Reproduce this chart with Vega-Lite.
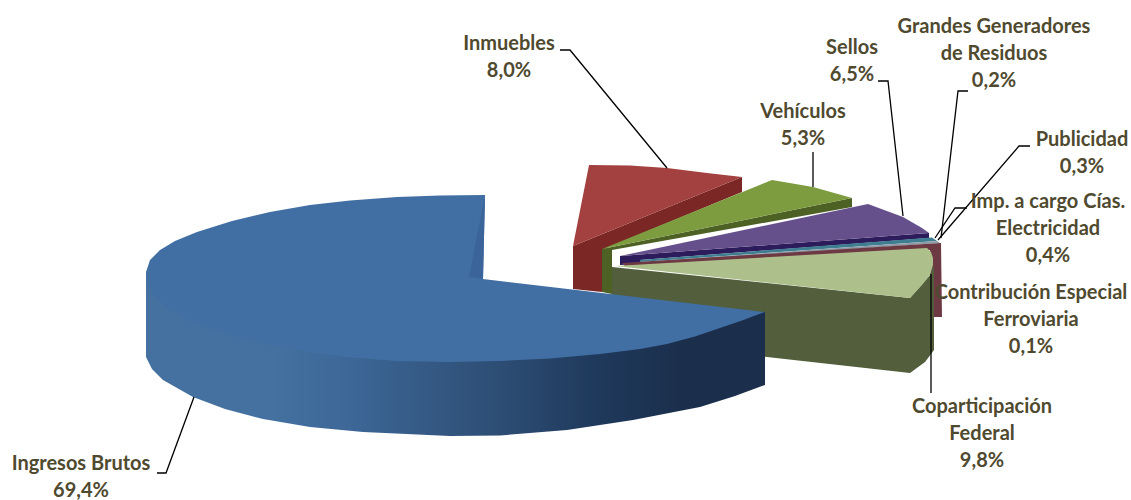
{"$schema":"https://vega.github.io/schema/vega-lite/v6.json","width":1131,"height":500,"autosize":{"type":"none"},"padding":0,"background":"white","view":{"stroke":null},
"datasets":{
"piezas":[
{"p":"a rojo lado","o":1,"x":573,"y":246},{"p":"a rojo lado","o":2,"x":742,"y":177},{"p":"a rojo lado","o":3,"x":742,"y":192},{"p":"a rojo lado","o":4,"x":602,"y":250},{"p":"a rojo lado","o":5,"x":602,"y":292},{"p":"a rojo lado","o":6,"x":573,"y":289},
{"p":"b rojo","o":1,"x":589,"y":165},{"p":"b rojo","o":2,"x":630,"y":165.5},{"p":"b rojo","o":3,"x":667,"y":168},{"p":"b rojo","o":4,"x":707,"y":173},{"p":"b rojo","o":5,"x":742,"y":177},{"p":"b rojo","o":6,"x":573,"y":246},
{"p":"c verde lado","o":1,"x":602,"y":249},{"p":"c verde lado","o":2,"x":852,"y":198},{"p":"c verde lado","o":3,"x":852,"y":207},{"p":"c verde lado","o":4,"x":612,"y":250},{"p":"c verde lado","o":5,"x":612,"y":294},{"p":"c verde lado","o":6,"x":602,"y":292},
{"p":"d verde","o":1,"x":772,"y":180},{"p":"d verde","o":2,"x":813,"y":187},{"p":"d verde","o":3,"x":852,"y":198},{"p":"d verde","o":4,"x":602,"y":249},
{"p":"e violeta lado","o":1,"x":620,"y":256},{"p":"e violeta lado","o":2,"x":929,"y":233},{"p":"e violeta lado","o":3,"x":929,"y":238},{"p":"e violeta lado","o":4,"x":640,"y":260},{"p":"e violeta lado","o":5,"x":640,"y":264},{"p":"e violeta lado","o":6,"x":620,"y":265},
{"p":"f violeta","o":1,"x":868,"y":204},{"p":"f violeta","o":2,"x":903,"y":217},{"p":"f violeta","o":3,"x":922,"y":228},{"p":"f violeta","o":4,"x":929,"y":233},{"p":"f violeta","o":5,"x":620,"y":256},
{"p":"g turquesa","o":1,"x":640,"y":260},{"p":"g turquesa","o":2,"x":932,"y":237.5},{"p":"g turquesa","o":3,"x":937,"y":241},{"p":"g turquesa","o":4,"x":640,"y":262},
{"p":"h gris","o":1,"x":640,"y":262},{"p":"h gris","o":2,"x":937,"y":241},{"p":"h gris","o":3,"x":940,"y":243},{"p":"h gris","o":4,"x":640,"y":264},
{"p":"i granate","o":1,"x":622,"y":263},{"p":"i granate","o":2,"x":941,"y":243},{"p":"i granate","o":3,"x":942,"y":317},{"p":"i granate","o":4,"x":930,"y":317},{"p":"i granate","o":5,"x":930,"y":250},{"p":"i granate","o":6,"x":625,"y":266},
{"p":"j oliva lado","o":1,"x":612,"y":267},{"p":"j oliva lado","o":2,"x":910,"y":298},{"p":"j oliva lado","o":3,"x":930,"y":275},{"p":"j oliva lado","o":4,"x":934,"y":265},{"p":"j oliva lado","o":5,"x":934,"y":350},{"p":"j oliva lado","o":6,"x":925,"y":362},{"p":"j oliva lado","o":7,"x":910,"y":373},{"p":"j oliva lado","o":8,"x":767,"y":357},{"p":"j oliva lado","o":9,"x":612,"y":340},
{"p":"k oliva","o":1,"x":615,"y":266},{"p":"k oliva","o":2,"x":927,"y":248},{"p":"k oliva","o":3,"x":931,"y":252},{"p":"k oliva","o":4,"x":933,"y":258},{"p":"k oliva","o":5,"x":933,"y":265},{"p":"k oliva","o":6,"x":930,"y":275},{"p":"k oliva","o":7,"x":922,"y":285},{"p":"k oliva","o":8,"x":910,"y":298}
],
"azulLado":[
{"o":1,"x":146,"y":272},{"o":2,"x":146,"y":357},{"o":3,"x":152,"y":369},{"o":4,"x":163,"y":380},{"o":5,"x":193,"y":397},{"o":6,"x":225,"y":409},{"o":7,"x":263,"y":419},{"o":8,"x":310,"y":427},{"o":9,"x":363,"y":432},{"o":10,"x":450,"y":436},{"o":11,"x":500,"y":435.5},{"o":12,"x":567,"y":430},{"o":13,"x":633,"y":420},{"o":14,"x":700,"y":407},{"o":15,"x":735,"y":396},{"o":16,"x":765,"y":385},{"o":17,"x":765,"y":312},{"o":18,"x":500,"y":300}
],
"azul":[
{"p":"l azul","o":1,"x":485,"y":195},{"p":"l azul","o":2,"x":440,"y":195.5},{"p":"l azul","o":3,"x":397,"y":197},{"p":"l azul","o":4,"x":350,"y":200.5},{"p":"l azul","o":5,"x":310,"y":205},{"p":"l azul","o":6,"x":270,"y":212},{"p":"l azul","o":7,"x":232,"y":221},{"p":"l azul","o":8,"x":197,"y":232},{"p":"l azul","o":9,"x":175,"y":241},{"p":"l azul","o":10,"x":160,"y":250},{"p":"l azul","o":11,"x":150,"y":260},{"p":"l azul","o":12,"x":146,"y":272},{"p":"l azul","o":13,"x":148,"y":285},{"p":"l azul","o":14,"x":155,"y":297},{"p":"l azul","o":15,"x":168,"y":309},{"p":"l azul","o":16,"x":190,"y":321},{"p":"l azul","o":17,"x":230,"y":335},{"p":"l azul","o":18,"x":262,"y":343},{"p":"l azul","o":19,"x":297,"y":350},{"p":"l azul","o":20,"x":345,"y":357},{"p":"l azul","o":21,"x":397,"y":361},{"p":"l azul","o":22,"x":450,"y":362},{"p":"l azul","o":23,"x":500,"y":361},{"p":"l azul","o":24,"x":550,"y":358.5},{"p":"l azul","o":25,"x":600,"y":354},{"p":"l azul","o":26,"x":640,"y":349},{"p":"l azul","o":27,"x":667,"y":344},{"p":"l azul","o":28,"x":695,"y":336.5},{"p":"l azul","o":29,"x":717,"y":329},{"p":"l azul","o":30,"x":742,"y":320.5},{"p":"l azul","o":31,"x":765,"y":312},{"p":"l azul","o":32,"x":483,"y":279},
{"p":"m azul corte","o":1,"x":485,"y":195},{"p":"m azul corte","o":2,"x":483,"y":279},{"p":"m azul corte","o":3,"x":469,"y":277}
],
"guias":[
{"c":"Inmuebles","o":1,"x":560,"y":50},{"c":"Inmuebles","o":2,"x":570,"y":50},{"c":"Inmuebles","o":3,"x":667,"y":168},
{"c":"Vehiculos","o":1,"x":813,"y":152},{"c":"Vehiculos","o":2,"x":813,"y":187},
{"c":"Sellos","o":1,"x":878,"y":81},{"c":"Sellos","o":2,"x":888,"y":81},{"c":"Sellos","o":3,"x":903,"y":216},
{"c":"Grandes","o":1,"x":968,"y":91},{"c":"Grandes","o":2,"x":958,"y":91},{"c":"Grandes","o":3,"x":941,"y":238},
{"c":"Publicidad","o":1,"x":1030,"y":146},{"c":"Publicidad","o":2,"x":1019,"y":146},{"c":"Publicidad","o":3,"x":938,"y":240},
{"c":"Imp","o":1,"x":967,"y":208},{"c":"Imp","o":2,"x":955,"y":208},{"c":"Imp","o":3,"x":935,"y":238},
{"c":"Copart","o":1,"x":931,"y":274},{"c":"Copart","o":2,"x":931,"y":393},
{"c":"Ingresos","o":1,"x":157,"y":473},{"c":"Ingresos","o":2,"x":166,"y":473},{"c":"Ingresos","o":3,"x":194,"y":397}
],
"etiquetas":[
{"t":"Inmuebles\n8,0%","v":8.0,"x":509,"y":44},
{"t":"Vehículos\n5,3%","v":5.3,"x":803,"y":112},
{"t":"Sellos\n6,5%","v":6.5,"x":852,"y":48},
{"t":"Grandes Generadores\nde Residuos\n0,2%","v":0.2,"x":994,"y":27},
{"t":"Publicidad\n0,3%","v":0.3,"x":1082,"y":140},
{"t":"Imp. a cargo Cías.\nElectricidad\n0,4%","v":0.4,"x":1048,"y":202},
{"t":"Contribución Especial\nFerroviaria\n0,1%","v":0.1,"x":1031,"y":293},
{"t":"Coparticipación\nFederal\n9,8%","v":9.8,"x":982,"y":407},
{"t":"Ingresos Brutos\n69,4%","v":69.4,"x":81,"y":464}
]},
"encoding":{
"x":{"field":"x","type":"quantitative","scale":{"domain":[0,1131],"nice":false,"zero":false},"axis":null},
"y":{"field":"y","type":"quantitative","scale":{"domain":[500,0],"nice":false,"zero":false},"axis":null}},
"resolve":{"scale":{"fill":"independent"}},
"layer":[
{"data":{"name":"piezas"},"mark":{"type":"line","strokeWidth":0},
"encoding":{"order":{"field":"o","type":"quantitative"},
"fill":{"field":"p","type":"nominal","legend":null,"scale":{"domain":["a rojo lado","b rojo","c verde lado","d verde","e violeta lado","f violeta","g turquesa","h gris","i granate","j oliva lado","k oliva"],"range":["#7b2725","#a2413f","#4d6125","#7d9c3f","#2c1c5c","#66508b","#3f7d90","#8f9ba6","#6d3a44","#525e3c","#adc08c"]}}}},
{"data":{"name":"azulLado"},"mark":{"type":"line","strokeWidth":0,"fill":{"gradient":"linear","x1":0,"y1":0,"x2":1,"y2":0,"stops":[{"offset":0,"color":"#44719f"},{"offset":0.2,"color":"#44719f"},{"offset":0.32,"color":"#3d6898"},{"offset":0.45,"color":"#355a85"},{"offset":0.6,"color":"#2b4a70"},{"offset":0.72,"color":"#1f3a5c"},{"offset":0.88,"color":"#1b2e4b"},{"offset":1,"color":"#1b2e4b"}]}},
"encoding":{"order":{"field":"o","type":"quantitative"}}},
{"data":{"name":"azul"},"mark":{"type":"line","strokeWidth":0},
"encoding":{"order":{"field":"o","type":"quantitative"},
"fill":{"field":"p","type":"nominal","legend":null,"scale":{"domain":["l azul","m azul corte"],"range":["#426fa3","#3b659a"]}}}},
{"data":{"name":"guias"},"mark":{"type":"line","stroke":"#000000","strokeWidth":1.3},
"encoding":{"detail":{"field":"c","type":"nominal"},"order":{"field":"o","type":"quantitative"}}},
{"data":{"name":"etiquetas"},"mark":{"type":"text","font":"Lato","fontWeight":"bold","fontSize":20,"color":"#4f4a2f","lineBreak":"\n","lineHeight":27,"align":"center","baseline":"middle"},
"encoding":{"text":{"field":"t"}}}
]}
